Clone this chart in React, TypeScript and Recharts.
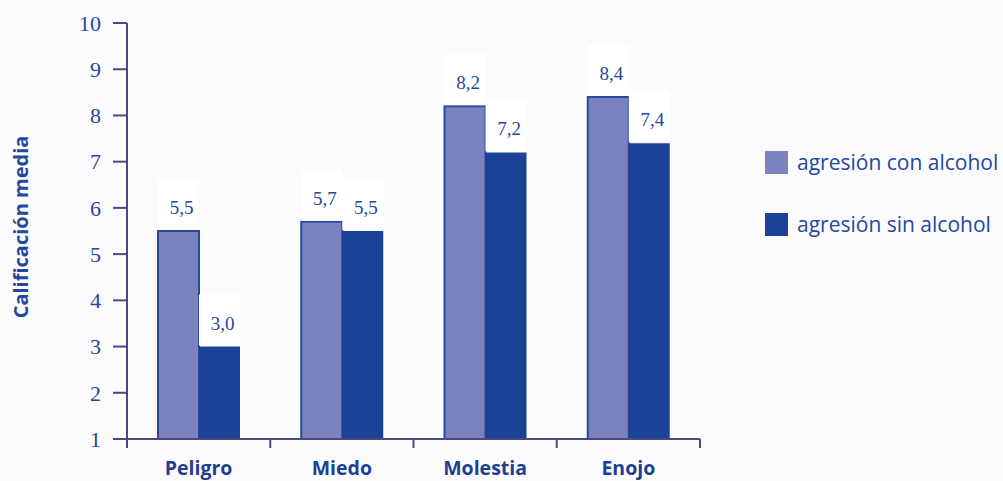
import React from 'react';
import { BarChart, Bar, XAxis, YAxis, LabelList } from 'recharts';

const categories = ['Peligro', 'Miedo', 'Molestia', 'Enojo'];
const conAlcohol = [5.5, 5.7, 8.2, 8.4];
const sinAlcohol = [3.0, 5.5, 7.2, 7.4];
const yTicks = [1, 2, 3, 4, 5, 6, 7, 8, 9, 10];
const seriesNames = ['agresión con alcohol', 'agresión sin alcohol'];

const LIGHT = '#7c82bd';
const DARK = '#1b4297';
const AXIS = '#4a4a80';
const TEXT = '#24489b';

const data = categories.map((c, i) => ({ name: c, con: conAlcohol[i], sin: sinAlcohol[i] }));

const fmt = (v: number) => v.toFixed(1).replace('.', ',');

const ValueLabel = (props: any) => {
  const { x, y, width, value } = props;
  return (
    <g>
      <rect x={x} y={y - 52} width={width} height={51} fill="#ffffff" />
      <text
        x={x + width / 2 + 3}
        y={y - 17}
        textAnchor="middle"
        fill={TEXT}
        fontSize={19}
        fontFamily="Liberation Serif, serif"
      >
        {fmt(value)}
      </text>
    </g>
  );
};

const CatTick = (props: any) => {
  const { x, y, payload, index } = props;
  const off = payload && payload.offset ? payload.offset : 71.5;
  return (
    <g>
      <line x1={x - off} y1={y} x2={x - off} y2={y + 9} stroke={AXIS} strokeWidth={2} />
      {index === categories.length - 1 && (
        <line x1={x + off} y1={y} x2={x + off} y2={y + 9} stroke={AXIS} strokeWidth={2} />
      )}
      <text
        x={x}
        y={y + 36}
        textAnchor="middle"
        fill="#1e3f91"
        fontSize={19.5}
        fontWeight="bold"
        fontFamily="Open Sans, sans-serif"
      >
        {payload.value}
      </text>
    </g>
  );
};

const LegendBox = () => (
  <div style={{ position: 'absolute', left: 765, top: 151, fontFamily: 'Open Sans, sans-serif' }}>
    {seriesNames.map((n, i) => (
      <div key={n} style={{ display: 'flex', alignItems: 'center', height: 23, marginBottom: i === 0 ? 39 : 0 }}>
        <div style={{ width: 23, height: 23, background: i === 0 ? LIGHT : DARK, marginRight: 9 }} />
        <span style={{ fontSize: 21, color: TEXT, whiteSpace: 'nowrap', lineHeight: '23px' }}>{n}</span>
      </div>
    ))}
  </div>
);

export default function App() {
  return (
    <div style={{ position: 'absolute', left: 0, top: 0, width: 1003, height: 481, background: '#fbfbfd' }}>
      <BarChart
        width={1003}
        height={481}
        data={data}
        margin={{ top: 23, right: 303, bottom: 0, left: 0 }}
        barGap={0}
        barCategoryGap={30}
      >
        <XAxis
          dataKey="name"
          height={42}
          interval={0}
          tickSize={0}
          tickMargin={0}
          tickLine={false}
          axisLine={{ stroke: AXIS, strokeWidth: 2 }}
          tick={<CatTick />}
        />
        <YAxis
          type="number"
          domain={[1, 10]}
          ticks={yTicks}
          width={127}
          tickSize={14}
          tickMargin={12}
          allowDataOverflow
          axisLine={{ stroke: AXIS, strokeWidth: 2 }}
          tickLine={{ stroke: AXIS, strokeWidth: 2 }}
          tick={{ fill: TEXT, fontSize: 22, fontFamily: 'Liberation Serif, serif' }}
        />
        <Bar dataKey="con" name={seriesNames[0]} fill={LIGHT} stroke="#2c4a9d" strokeWidth={2} barSize={41} isAnimationActive={false}>
          <LabelList dataKey="con" content={<ValueLabel />} />
        </Bar>
        <Bar dataKey="sin" name={seriesNames[1]} fill={DARK} barSize={41} isAnimationActive={false}>
          <LabelList dataKey="sin" content={<ValueLabel />} />
        </Bar>
      </BarChart>
      <LegendBox />
      <div
        style={{
          position: 'absolute',
          left: 20,
          top: 227,
          transform: 'translate(-50%, -50%) rotate(-90deg)',
          fontFamily: 'Open Sans, sans-serif',
          fontWeight: 'bold',
          fontSize: 20,
          color: TEXT,
          whiteSpace: 'nowrap',
        }}
      >
        Calificación media
      </div>
    </div>
  );
}
